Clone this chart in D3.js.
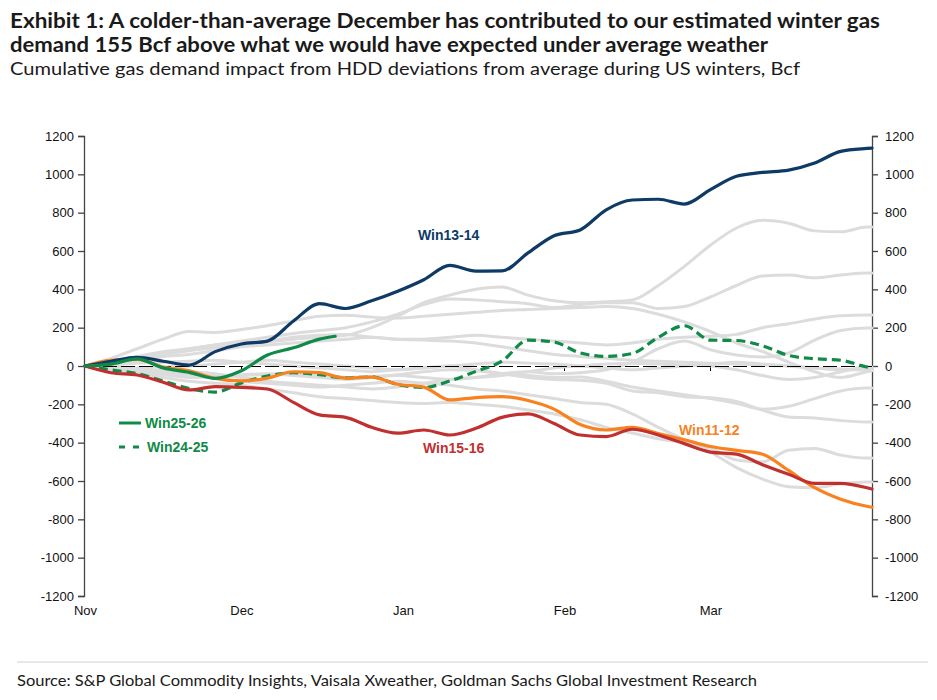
<!DOCTYPE html>
<html>
<head>
<meta charset="utf-8">
<script src="https://cdn.jsdelivr.net/npm/d3@7/dist/d3.min.js"></script>
<style>
  html, body { margin: 0; padding: 0; background: #fff; }
  svg { display: block; }
</style>
</head>
<body>
<svg id="chart" width="937" height="700"></svg>
<script>
// ---------- DATA ----------
const days = [0,5,10,15,20,25,30,35,40,45,50,55,60,65,70,75,80,85,90,95,100,105,110,115,120,125,130,135,140,145,150,151];
const monthLabels = ["Nov","Dec","Jan","Feb","Mar"];
const monthStarts = [0,30,61,92,120];
const yTicks = [-1200,-1000,-800,-600,-400,-200,0,200,400,600,800,1000,1200];

const win1314 = [0,25,45,25,5,75,115,130,235,325,300,340,390,450,525,495,496,590,680,710,815,866,870,845,920,990,1010,1022,1059,1120,1135,1137];
const win1516 = [0,-35,-47,-85,-125,-108,-112,-120,-190,-255,-268,-320,-350,-334,-360,-325,-268,-250,-300,-360,-368,-330,-360,-405,-449,-460,-515,-565,-612,-612,-635,-642];
const win1112 = [0,30,35,-5,-25,-65,-78,-63,-30,-35,-63,-58,-95,-110,-177,-165,-160,-180,-225,-305,-334,-320,-352,-385,-420,-440,-460,-545,-635,-695,-732,-737];
const win2425 = [0,-20,-40,-78,-118,-136,-88,-52,-35,-45,-62,-57,-97,-112,-78,-28,25,135,125,68,50,65,150,210,135,133,105,55,38,30,-5,-10];
const days2526 = [0,5,10,15,20,25,30,35,40,45,48];
const win2526 = [0,10,37,-10,-33,-65,-25,57,95,140,155];

const greySeries = [
  [0,15,35,60,80,95,110,125,140,150,160,200,260,330,370,400,412,370,340,330,335,345,420,520,630,720,760,745,705,700,725,725],
  [0,25,50,75,90,110,130,150,170,185,200,230,270,320,350,345,335,325,305,320,330,330,300,310,360,420,470,475,460,475,485,485],
  [0,40,90,140,180,175,190,210,235,260,265,255,250,260,270,280,290,295,300,305,310,300,270,230,180,120,75,20,-30,-60,-30,-25],
  [0,10,30,50,60,80,100,110,120,130,140,150,140,140,150,160,150,140,130,120,110,120,140,150,155,165,200,220,245,262,266,266],
  [0,-10,-20,-30,-40,-50,-45,-40,-50,-60,-70,-60,-50,-60,-70,-60,-40,-30,-40,-35,-20,20,90,130,85,57,47,68,135,185,198,198],
  [0,-15,-30,-45,-60,-55,-50,-45,-40,-50,-60,-55,-45,-30,-20,-25,-40,-50,-60,-57,-80,-110,-130,-150,-170,-195,-225,-210,-170,-130,-115,-115],
  [0,-5,-10,-5,0,10,20,30,20,10,0,-10,-20,-10,0,-20,-40,-60,-70,-75,-90,-130,-140,-160,-165,-185,-230,-266,-271,-285,-292,-292],
  [0,-20,-35,-60,-80,-90,-100,-120,-140,-160,-170,-180,-190,-195,-190,-200,-210,-230,-250,-280,-320,-350,-380,-400,-430,-490,-500,-440,-430,-465,-480,-480],
  [0,-10,-25,-40,-50,-60,-80,-90,-100,-110,-100,-90,-80,-90,-100,-120,-130,-150,-170,-190,-200,-250,-320,-385,-450,-530,-590,-630,-635,-615,-605,-605],
  [0,5,15,20,25,30,20,10,0,-10,-20,-30,-20,-10,0,10,20,15,10,0,-10,-20,-10,0,10,20,10,0,-10,-20,-20,-20],
  [0,-5,-15,-25,-30,-40,-60,-80,-90,-100,-110,-120,-110,-90,-70,-60,-50,-30,-10,0,10,15,10,5,0,-20,-50,-70,-60,-30,-5,-5],
  [0,20,45,70,90,110,120,130,150,160,165,150,140,135,130,120,100,80,60,50,40,30,25,20,15,10,5,0,-10,-15,-20,-20]
];

// ---------- CHART ----------
const svg = d3.select("#chart");
const x = d3.scaleLinear().domain([0,151]).range([85,872]);
const y = d3.scaleLinear().domain([-1200,1200]).range([596,136]);

const titleFont = "Lato, 'Open Sans', sans-serif";
const axisFont = "'Liberation Sans', Arial, sans-serif";

// Titles
svg.append("text").attr("x",10).attr("y",28)
  .attr("font-family",titleFont).attr("font-weight",700).attr("font-size",20).attr("fill","#1a1a1a")
  .attr("textLength",870).attr("lengthAdjust","spacingAndGlyphs")
  .text("Exhibit 1: A colder-than-average December has contributed to our estimated winter gas");
svg.append("text").attr("x",10).attr("y",52)
  .attr("font-family",titleFont).attr("font-weight",700).attr("font-size",20).attr("fill","#1a1a1a")
  .attr("textLength",758).attr("lengthAdjust","spacingAndGlyphs")
  .text("demand 155 Bcf above what we would have expected under average weather");
svg.append("text").attr("x",10).attr("y",75)
  .attr("font-family",titleFont).attr("font-size",17.5).attr("fill","#1a1a1a")
  .attr("textLength",790).attr("lengthAdjust","spacingAndGlyphs")
  .text("Cumulative gas demand impact from HDD deviations from average during US winters, Bcf");

// Axes
const fmt = d => String(d);
const leftAxis = d3.axisLeft(y).tickValues(yTicks).tickFormat(fmt).tickSize(6).tickPadding(4);
const rightAxis = d3.axisRight(y).tickValues(yTicks).tickFormat(fmt).tickSize(6).tickPadding(4);
const gL = svg.append("g").attr("transform","translate(84,0)").call(leftAxis);
const gR = svg.append("g").attr("transform","translate(872,0)").call(rightAxis);
[gL,gR].forEach(g => {
  g.select(".domain").attr("stroke","#444").attr("stroke-width",1.3);
  g.selectAll(".tick line").attr("stroke","#444").attr("stroke-width",1.3);
  g.selectAll(".tick text").attr("font-family",axisFont).attr("font-size",13).attr("fill","#111");
});
gR.selectAll(".tick text").attr("dx",3);

// Month labels
const xAxis = d3.axisBottom(x).tickValues(monthStarts).tickFormat((d,i)=>monthLabels[i]).tickSize(0).tickPadding(0);
const gX = svg.append("g").attr("transform","translate(0,605)").call(xAxis);
gX.select(".domain").remove();
gX.selectAll(".tick text").attr("font-family",axisFont).attr("font-size",13).attr("fill","#111").attr("dy","0.8em");

const line = d3.line().x((d,i)=>x(days[i])).y(d=>y(d)).curve(d3.curveMonotoneX);
const line2526 = d3.line().x((d,i)=>x(days2526[i])).y(d=>y(d)).curve(d3.curveMonotoneX);

// Month ticks on the zero line
svg.append("g").selectAll("line").data(monthStarts.slice(1)).join("line")
  .attr("x1",d=>x(d)).attr("x2",d=>x(d)).attr("y1",y(0)).attr("y2",y(0)+5)
  .attr("stroke","#000").attr("stroke-width",1).attr("shape-rendering","crispEdges");

// Grey lines
svg.append("g").selectAll("path").data(greySeries).join("path")
  .attr("d",line).attr("fill","none").attr("stroke","#dcdcdc").attr("stroke-width",3)
  .attr("stroke-linejoin","round").attr("stroke-linecap","round");

// Zero line
svg.append("line").attr("x1",x(0)).attr("x2",x(151)).attr("y1",y(0)).attr("y2",y(0))
  .attr("stroke","#000").attr("stroke-width",1).attr("stroke-dasharray","14,4")
  .attr("shape-rendering","crispEdges");

// Highlighted lines
const colors = {navy:"#0e3a66", red:"#c0302f", orange:"#f7821f", green:"#0f8a47"};
function drawLine(data, gen, color, dash) {
  svg.append("path").datum(data).attr("d",gen).attr("fill","none")
    .attr("stroke",color).attr("stroke-width",3.2)
    .attr("stroke-linejoin","round").attr("stroke-linecap", dash ? "butt" : "round")
    .attr("stroke-dasharray", dash || null);
}
drawLine(win2425, line, colors.green, "9,5");
drawLine(win1112, line, colors.orange);
drawLine(win1516, line, colors.red);
drawLine(win1314, line, colors.navy);
drawLine(win2526, line2526, colors.green);

// Series labels
const lblFont = "'Liberation Sans', Arial, sans-serif";
function label(txt, xx, yy, color) {
  svg.append("text").attr("x",xx).attr("y",yy).attr("font-family",lblFont)
    .attr("font-weight",700).attr("font-size",14).attr("fill",color).text(txt);
}
label("Win13-14", 418, 240, colors.navy);
label("Win15-16", 423, 453, colors.red);
label("Win11-12", 679, 435, colors.orange);

// Legend
svg.append("line").attr("x1",119).attr("x2",141).attr("y1",423).attr("y2",423)
  .attr("stroke",colors.green).attr("stroke-width",3);
svg.append("line").attr("x1",119).attr("x2",139).attr("y1",447).attr("y2",447)
  .attr("stroke",colors.green).attr("stroke-width",3).attr("stroke-dasharray","6,8");
label("Win25-26", 145, 428, colors.green);
label("Win24-25", 147, 452, colors.green);

// Source
svg.append("line").attr("x1",17).attr("x2",928).attr("y1",662).attr("y2",662)
  .attr("stroke","#d0d0d0").attr("stroke-width",1);
svg.append("text").attr("x",17).attr("y",686)
  .attr("font-family",titleFont).attr("font-size",15).attr("fill","#1a1a1a")
  .attr("textLength",740).attr("lengthAdjust","spacingAndGlyphs")
  .text("Source: S&P Global Commodity Insights, Vaisala Xweather, Goldman Sachs Global Investment Research");
</script>
</body>
</html>
